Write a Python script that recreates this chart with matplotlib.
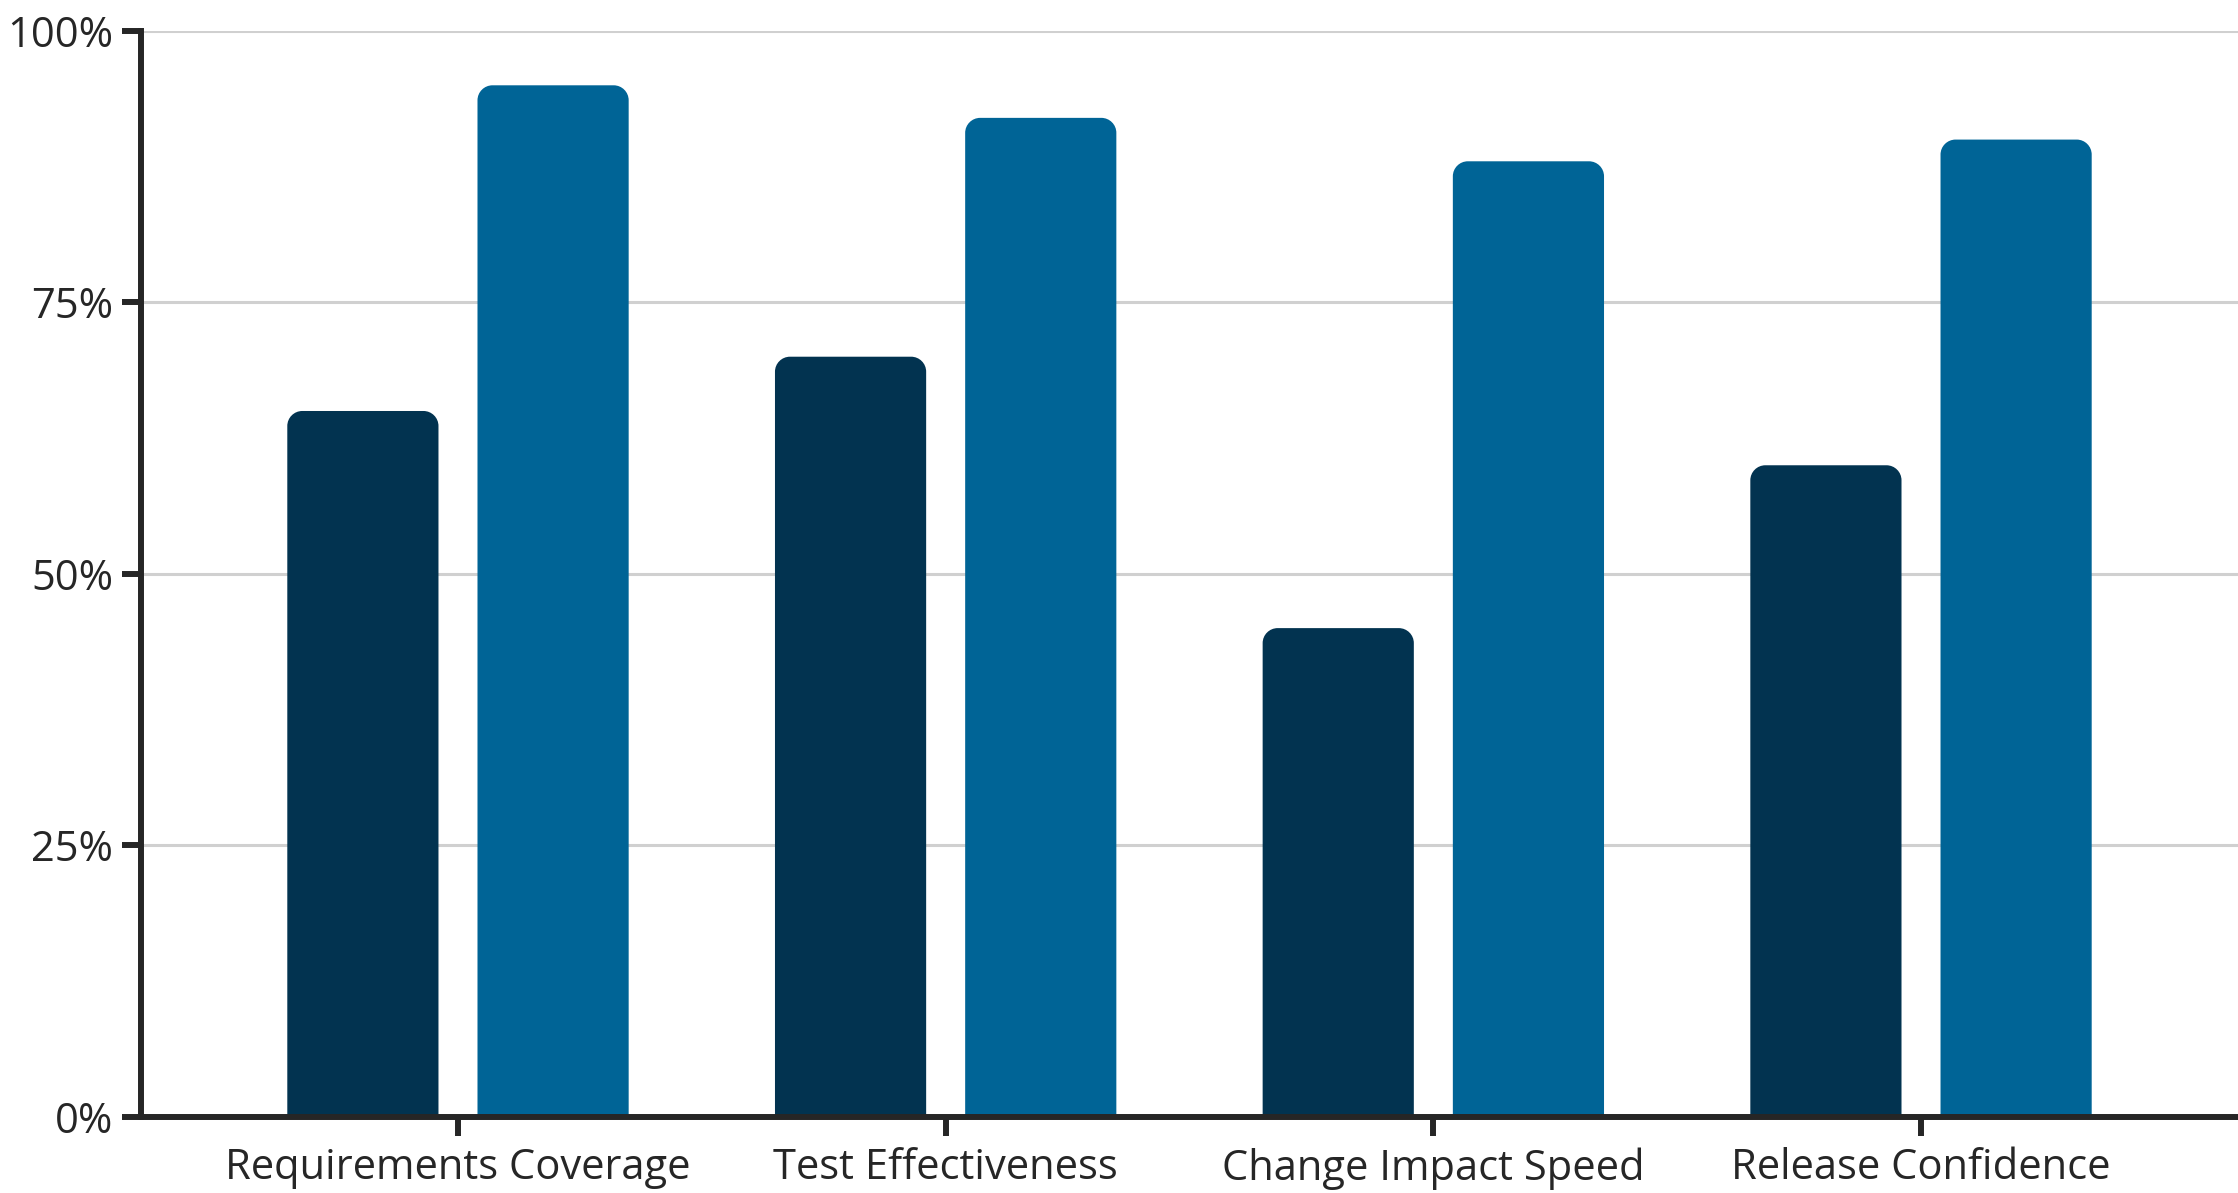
import numpy as np
import matplotlib.pyplot as plt
from matplotlib.path import Path
from matplotlib.patches import PathPatch

# data
categories = ["Requirements Coverage", "Test Effectiveness", "Change Impact Speed", "Release Confidence"]
before = [65, 70, 45, 60]
after = [95, 92, 88, 90]
yticks = [0, 25, 50, 75, 100]
ytick_labels = ["0%", "25%", "50%", "75%", "100%"]

dark = "#023350"
blue = "#006496"
ink = "#262626"

plt.rcParams['font.family'] = ['Open Sans', 'DejaVu Sans']

fig = plt.figure(figsize=(22.38, 11.93), dpi=100)
ax = fig.add_axes([0.063, 0.064, 0.937, 0.910])

x = np.arange(len(categories))
w = 0.31
off = 0.195

ax.set_xlim(-0.65, 3.65)
ax.set_ylim(0, 100)

# corner radius in pixels -> data units
r_px = 15
(px0, py0), (px1, py1) = ax.transData.transform([(0, 0), (1, 1)])
rx = r_px / (px1 - px0)
ry = r_px / (py1 - py0)
k = 0.5523


def rounded_bar(xc, h, color):
    x0, x1 = xc - w / 2, xc + w / 2
    verts = [
        (x0, 0), (x0, h - ry),
        (x0, h - ry + k * ry), (x0 + rx - k * rx, h), (x0 + rx, h),
        (x1 - rx, h),
        (x1 - rx + k * rx, h), (x1, h - ry + k * ry), (x1, h - ry),
        (x1, 0), (x0, 0),
    ]
    codes = [Path.MOVETO, Path.LINETO,
             Path.CURVE4, Path.CURVE4, Path.CURVE4,
             Path.LINETO,
             Path.CURVE4, Path.CURVE4, Path.CURVE4,
             Path.LINETO, Path.CLOSEPOLY]
    ax.add_patch(PathPatch(Path(verts, codes), facecolor=color, edgecolor="none", zorder=2))


for xi, b, a in zip(x, before, after):
    rounded_bar(xi - off, b, dark)
    rounded_bar(xi + off, a, blue)

ax.set_yticks(yticks)
ax.set_yticklabels(ytick_labels)
ax.set_xticks(x)
ax.set_xticklabels(categories)
ax.yaxis.grid(True, color="#d0d0d0", linewidth=2.2, zorder=0)
ax.set_axisbelow(True)

for s in ["top", "right"]:
    ax.spines[s].set_visible(False)
for s in ["left", "bottom"]:
    ax.spines[s].set_color(ink)
    ax.spines[s].set_linewidth(4.3)
    ax.spines[s].set_zorder(3)

ax.tick_params(axis="both", colors=ink, labelcolor=ink, labelsize=30,
               length=14, width=4.3, direction="out", pad=6)
ax.tick_params(axis="x", pad=8)

fig.savefig("out.png", dpi=100)
